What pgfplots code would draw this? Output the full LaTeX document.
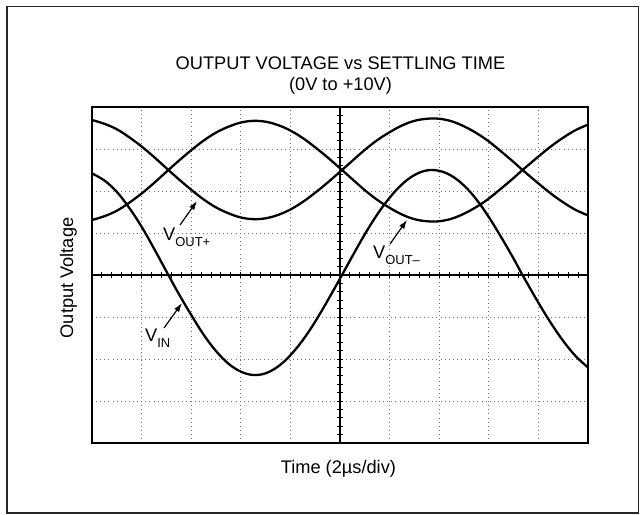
\documentclass[border=0pt]{standalone}
\usepackage{fontspec}
\setmainfont{Liberation Sans}
\usepackage{pgfplots}
\pgfplotsset{compat=1.18}
\usepackage{pgfplotstable}
\usetikzlibrary{arrows.meta}

\pgfplotstableread{
x vin a b
0 2.42 3.69 1.31
0.25 2.25 3.60 1.40
0.5 1.98 3.47 1.53
0.75 1.60 3.28 1.72
1.0 1.15 3.06 1.94
1.25 0.63 2.81 2.19
1.54 0.00 2.50 2.50
1.75 -0.45 2.28 2.72
2.0 -0.95 2.03 2.97
2.25 -1.42 1.80 3.20
2.5 -1.81 1.61 3.39
2.75 -2.11 1.47 3.53
3.0 -2.30 1.37 3.63
3.25 -2.38 1.33 3.67
3.5 -2.34 1.35 3.65
3.75 -2.18 1.43 3.57
4.0 -1.91 1.56 3.44
4.25 -1.55 1.74 3.26
4.5 -1.11 1.96 3.04
4.75 -0.61 2.20 2.80
5.04 0.00 2.50 2.50
5.25 0.45 2.72 2.28
5.5 0.97 2.98 2.02
5.75 1.44 3.21 1.79
6.0 1.84 3.40 1.60
6.25 2.16 3.56 1.44
6.5 2.38 3.67 1.33
6.75 2.49 3.72 1.28
7.0 2.48 3.72 1.28
7.25 2.36 3.66 1.34
7.5 2.13 3.54 1.46
7.75 1.80 3.38 1.62
8.0 1.38 3.18 1.82
8.25 0.90 2.94 2.06
8.5 0.39 2.69 2.31
8.68 0.00 2.50 2.50
9.0 -0.66 2.18 2.82
9.25 -1.14 1.94 3.06
9.5 -1.57 1.73 3.27
9.75 -1.93 1.55 3.45
10 -2.20 1.42 3.58
}\data

\newcommand\lbl{\fontsize{18.3}{21}\selectfont}
\newcommand\sub[1]{\raisebox{-6bp}{\fontsize{13}{13}\selectfont #1}}

\begin{document}
\begin{tikzpicture}
\useasboundingbox (0,0) rectangle (640bp,-515bp);
\draw[line width=1.3bp, black!85] (7bp,-6.5bp) rectangle (638.5bp,-513bp);

\begin{axis}[
  at={(92bp,-443bp)}, anchor=south west,
  width=496bp, height=336bp, scale only axis,
  xmin=0, xmax=10, ymin=-4, ymax=4,
  xtick={1,2,3,4,6,7,8,9}, ytick={-3,-2,-1,1,2,3},
  xticklabels={}, yticklabels={},
  grid=major,
  major grid style={black!55, line width=0.9bp, dash pattern=on 0.9bp off 3.2bp},
  major tick length=0pt, tick style={draw=none},
  axis line style={line width=2.6bp},
  clip=true,
]
\addplot[line width=2.3bp, smooth, tension=0.6] table[x=x, y=vin] {\data};
\addplot[line width=2.3bp, smooth, tension=0.6] table[x=x, y=a] {\data};
\addplot[line width=2.3bp, smooth, tension=0.6] table[x=x, y=b] {\data};
\end{axis}

\begin{axis}[
  at={(92bp,-443bp)}, anchor=south west,
  width=496bp, height=336bp, scale only axis,
  xmin=-5, xmax=5, ymin=-4, ymax=4,
  axis lines=middle,
  axis line style={-, line width=1.3bp},
  xtick={-4.8,-4.6,...,4.81}, ytick={-3.8,-3.6,...,3.81},
  xticklabels={}, yticklabels={},
  tick align=center, major tick length=6bp,
  tick style={line width=1bp, black},
]
\end{axis}

\node[inner sep=0pt, anchor=base, font=\lbl] at (340.5bp,-69bp) {OUTPUT VOLTAGE vs SETTLING TIME};
\node[inner sep=0pt, anchor=base, font=\lbl] at (340.5bp,-90bp) {(0V to +10V)};
\node[rotate=90, inner sep=0pt, anchor=base] at (73bp,-278bp) {\lbl Output Voltage};
\node[inner sep=0pt, anchor=base] at (338.4bp,-473bp) {\lbl Time (2µs/div)};

\node[inner sep=0pt, anchor=base west] at (163bp,-240bp) {\lbl V\sub{OUT+}};
\node[inner sep=0pt, anchor=base west] at (373bp,-258bp) {\lbl V\sub{OUT–}};
\node[inner sep=0pt, anchor=base west] at (145bp,-341bp) {\lbl V\sub{IN}};

\draw[line width=1.2bp, -{Latex[length=9bp,width=6bp]}] (180bp,-225bp) -- (197bp,-201bp);
\draw[line width=1.2bp, -{Latex[length=9bp,width=6bp]}] (390bp,-244bp) -- (407bp,-220bp);
\draw[line width=1.2bp, -{Latex[length=9bp,width=6bp]}] (164bp,-328bp) -- (182bp,-303bp);
\end{tikzpicture}
\end{document}
